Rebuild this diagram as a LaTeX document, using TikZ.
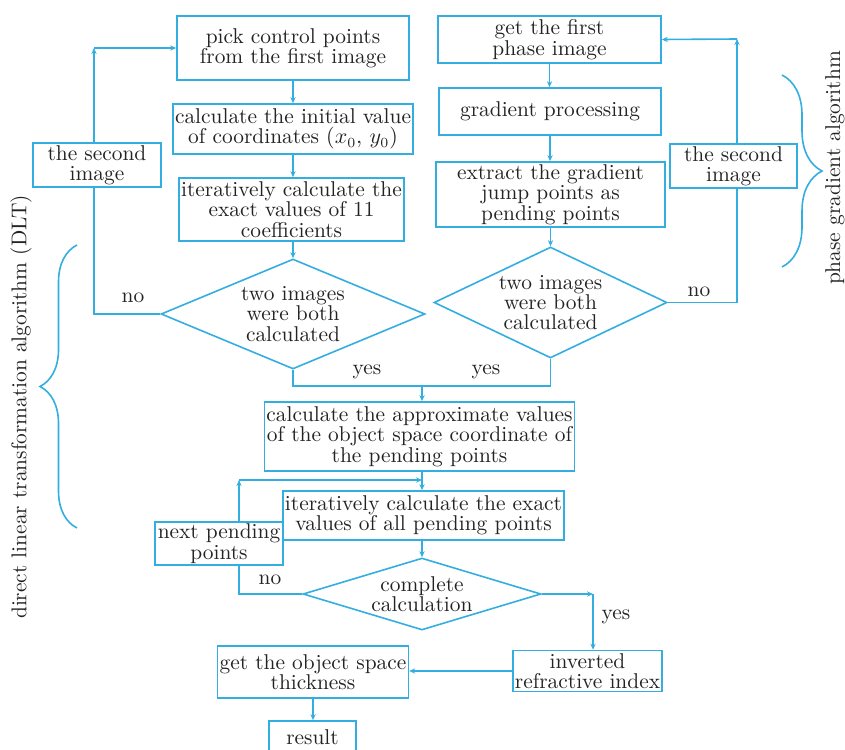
\documentclass[tikz,border=0pt]{standalone}
\usepackage{tikz}
\usetikzlibrary{positioning, arrows.meta, shapes.geometric, decorations.pathreplacing}
\definecolor{flowblue}{RGB}{52,174,224}
\definecolor{inkgray}{RGB}{35,35,35}

\begin{document}
\begin{tikzpicture}[x=0.5pt, y=-0.5pt, >={Stealth[length=3pt,width=2.6pt]},
    font=\fontsize{10.7}{10.2}\selectfont, text=inkgray,
    box/.style={draw=flowblue, line width=0.8pt, align=center, inner sep=1pt},
    dia/.style={draw=flowblue, line width=0.8pt, diamond, align=center, inner sep=0pt},
    link/.style={draw=flowblue, line width=0.8pt},
    lbl/.style={inner sep=1pt}]
  \useasboundingbox (0,0) rectangle (845,749);
  \node[box, minimum width=116pt, minimum height=32pt] (pick) at (293,48) {pick control points\\from the first image};
  \node[box, minimum width=114pt, minimum height=25pt] (init) at (293,129) {calculate the initial value\\of coordinates $(x_0,\,y_0)$};
  \node[box, minimum width=112.5pt, minimum height=31.5pt] (coef) at (291.5,209.5) {iteratively calculate the\\exact values of 11\\coefficients};
  \node[dia, shape aspect=2.4, minimum width=132pt, minimum height=55pt] (dl) at (293,314) {two images\\were both\\calculated};
  \node[box, minimum width=64pt, minimum height=21pt] (secl) at (97,165) {the second\\image};
  \node[box, minimum width=111.5pt, minimum height=23.5pt] (first) at (549.5,39.5) {get the first\\phase image};
  \node[box, minimum width=111pt, minimum height=23.5pt] (grad) at (550,111.5) {gradient processing};
  \node[box, minimum width=114.5pt, minimum height=32.5pt] (jump) at (550.5,194.5) {extract the gradient\\jump points as\\pending points};
  \node[dia, shape aspect=2.1, minimum width=116.5pt, minimum height=55.5pt] (dr) at (550.5,302.5) {two images\\were both\\calculated};
  \node[box, minimum width=63.5pt, minimum height=20pt] (secr) at (733.5,166) {the second\\image};
  \node[box, minimum width=154.5pt, minimum height=34.5pt] (approx) at (419.5,436.5) {calculate the approximate values\\of the object space coordinate of\\the pending points};
  \node[box, minimum width=137.5pt, minimum height=24.5pt] (exact) at (423.5,515.5) {iteratively calculate the exact\\values of all pending points};
  \node[box, minimum width=64pt, minimum height=21.5pt] (next) at (219,543.5) {next pending\\points};
  \node[dia, shape aspect=3.3, minimum width=119pt, minimum height=36pt] (done) at (422,594) {complete\\calculation};
  \node[box, minimum width=74pt, minimum height=20.5pt] (inv) at (587.5,671) {inverted\\refractive index};
  \node[box, minimum width=91pt, minimum height=26pt] (thick) at (313,672) {get the object space\\thickness};
  \node[box, minimum width=43.5pt, minimum height=16pt] (res) at (312.5,737) {result};

  \coordinate (lc) at (94,48);
  \coordinate (rc) at (737,39);
  \coordinate (m) at (422,386);
  \coordinate (j) at (422,480);
  \coordinate (lp) at (239,480);
  \coordinate (k) at (593,594);

  \draw[link,->] (pick) -- (init);
  \draw[link,->] (init) -- (init.south |- coef.north);
  \draw[link,->] (dl.north |- coef.south) -- (dl.north);
  \draw[link] (dl.west) -| (lc |- secl.south);
  \draw[link,->] (lc |- secl.north) -- (lc);
  \draw[link,->] (lc) -- (pick.west);
  \draw[link,->] (first) -- (first.south |- grad.north);
  \draw[link,->] (grad) -- (grad.south |- jump.north);
  \draw[link,->] (dr.north |- jump.south) -- (dr.north);
  \draw[link] (dr.east) -| (rc |- secr.south);
  \draw[link,->] (rc |- secr.north) -- (rc);
  \draw[link,->] (rc) -- (first.east);
  \draw[link] (dl.south) |- (m);
  \draw[link] (dr.south) |- (m);
  \draw[link,->] (m) -- (m |- approx.north);
  \draw[link,->] (m |- approx.south) -- (m |- exact.north);
  \draw[link,->] (m |- exact.south) -- (done.north);
  \draw[link] (done.west) -| (lp |- next.south);
  \draw[link,->] (lp |- next.north) -- (lp);
  \draw[link,->] (lp) -- (j);
  \draw[link,->] (done.east) -- (k);
  \draw[link,->] (k) -- (k |- inv.north);
  \draw[link,->] (inv.west) -- (inv.west -| thick.east);
  \draw[link,->] (thick.south) -- (thick.south |- res.north);

  \node[lbl] (nol) at (133,298) {no};
  \node[lbl] (nor) at (699,292) {no};
  \node[lbl] (yesl) at (367,372) {yes};
  \node[lbl] (yesr) at (486,372) {yes};
  \node[lbl] (nob) at (270,580) {no};
  \node[lbl] (yesb) at (616,617) {yes};

  \draw[link, decorate, decoration={brace, amplitude=18.5pt}] (77,528) -- (77,245);
  \node[rotate=90] (dltlbl) at (21,407) {direct linear transformation algorithm (DLT)};
  \draw[link, decorate, decoration={brace, amplitude=20pt}] (782,75) -- (782,267);
  \node[rotate=90] (pgalbl) at (835,168) {phase gradient algorithm};
\end{tikzpicture}
\end{document}
